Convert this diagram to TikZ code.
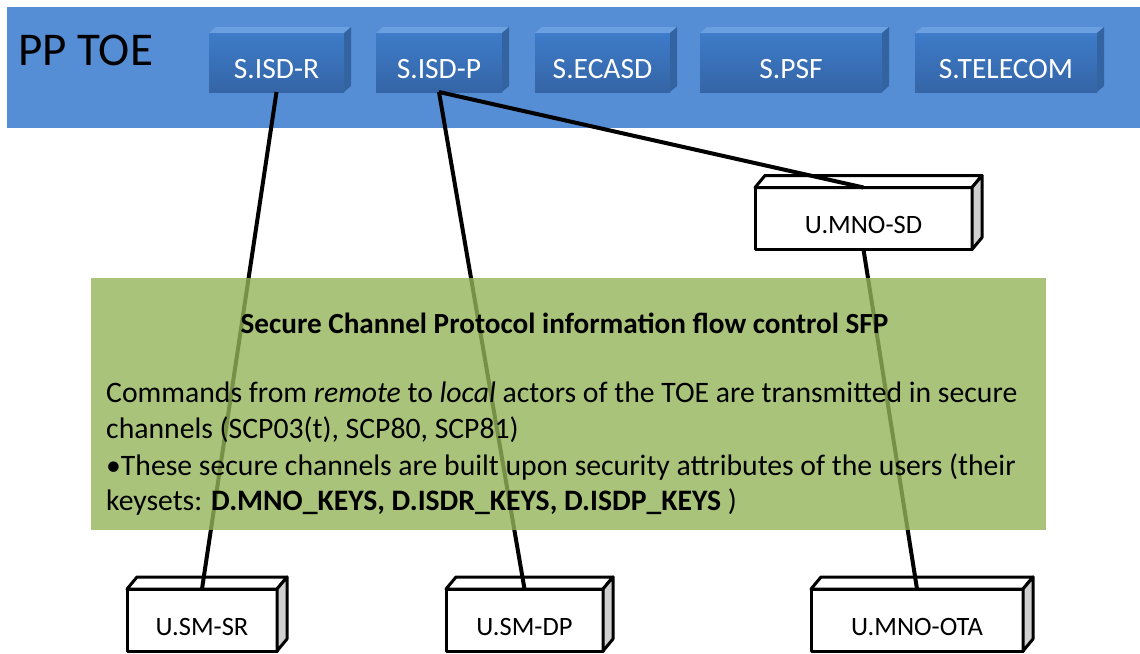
\documentclass[tikz,border=0pt]{standalone}
\usepackage{fontspec}
\setmainfont{Carlito}
\usetikzlibrary{calc}
\definecolor{band}{HTML}{558ED5}
\definecolor{bfront}{HTML}{3D7BC9}
\definecolor{bfront2}{HTML}{3565A6}
\definecolor{btop}{HTML}{6BA0E0}
\definecolor{bside}{HTML}{3463A2}
\definecolor{greenbox}{HTML}{94B559}
\definecolor{wside}{HTML}{D0D0D0}
\tikzset{
  sbox/.style={draw=none, top color=bfront, bottom color=bfront2, text=white,
    font=\fontsize{29.5}{34}\selectfont, minimum height=59pt, text height=31pt, text depth=0pt, inner sep=0pt, outer sep=0pt},
  ubox/.style={draw=black, line width=3pt, fill=white, line join=round,
    font=\fontsize{26.5}{30}\selectfont, minimum height=62pt, text height=30pt, text depth=0pt, inner sep=0pt, outer sep=0pt},
  conn/.style={line width=4pt, black},
  bodytext/.style={anchor=base west, inner sep=0pt, font=\fontsize{29.7}{36}\selectfont},
}
\newcommand{\sboxfaces}[1]{%
  \fill[btop] (#1.north west) -- ++(7,-6) -- ($(#1.north east)+(7,-6)$) -- (#1.north east) -- cycle;
  \fill[bside] (#1.north east) -- ++(7,-6) -- ($(#1.south east)+(7,-6)$) -- (#1.south east) -- cycle;
}
\newcommand{\uboxfaces}[1]{%
  \filldraw[fill=white, draw=black, line width=3pt, line join=round] (#1.north west) -- ++(10,-12) -- ($(#1.north east)+(10,-12)$) -- (#1.north east) -- cycle;
  \filldraw[fill=wside, draw=black, line width=3pt, line join=round] (#1.north east) -- ++(10,-12) -- ($(#1.south east)+(10,-12)$) -- (#1.south east) -- cycle;
}
\begin{document}
\begin{tikzpicture}[x=1pt,y=-1pt]
\useasboundingbox (0,0) rectangle (1140,653);
\fill[band] (7,7) rectangle (1140,128);
\node[anchor=base west, inner sep=0pt, font=\fontsize{47}{54}\selectfont] (pptoe) at (18,65) {PP TOE};

\node[sbox, minimum width=135pt] (isdr) at (276.5,62.5) {S.ISD-R};
\node[sbox, minimum width=126pt] (isdp) at (439,62.5) {S.ISD-P};
\node[sbox, minimum width=135pt] (ecasd) at (602.5,62.5) {S.ECASD};
\node[sbox, minimum width=182pt] (psf) at (791,62.5) {S.PSF};
\node[sbox, minimum width=182pt] (telecom) at (1006,62.5) {S.TELECOM};
\sboxfaces{isdr}\sboxfaces{isdp}\sboxfaces{ecasd}\sboxfaces{psf}\sboxfaces{telecom}

\node[ubox, minimum width=217pt] (mnosd) at (863.5,218.5) {U.MNO-SD};
\node[ubox, minimum width=150pt] (smsr) at (202,620) {U.SM-SR};
\node[ubox, minimum width=157pt] (smdp) at (524.5,620) {U.SM-DP};
\node[ubox, minimum width=212pt] (mnoota) at (917,620) {U.MNO-OTA};
\uboxfaces{mnosd}\uboxfaces{smsr}\uboxfaces{smdp}\uboxfaces{mnoota}

\draw[conn] (isdr.south) -- (smsr.north);
\draw[conn] (isdp.south) -- (smdp.north);
\draw[conn] (isdp.south) -- (mnosd.north);
\draw[conn] (mnosd.south) -- (mnoota.north);

\node[fill=greenbox, fill opacity=0.8, minimum width=955pt, minimum height=252pt, inner sep=0pt] (sfp) at (568.5,404) {};
\node[anchor=base, inner sep=0pt, font=\fontsize{29.2}{34}\selectfont\bfseries] (title) at (564.5,333) {Secure Channel Protocol information flow control SFP};
\node[bodytext] (l1) at (106,402) {Commands from \textit{remote} to \textit{local} actors of the TOE are transmitted in secure};
\node[bodytext] (l2) at (106,438) {channels (SCP03(t), SCP80, SCP81)};
\node[bodytext] (l3) at (106,475) {•These secure channels are built upon security attributes of the users (their};
\node[bodytext] (l4) at (106,510) {keysets: \textbf{D.MNO\_KEYS, D.ISDR\_KEYS, D.ISDP\_KEYS} )};
\end{tikzpicture}
\end{document}
